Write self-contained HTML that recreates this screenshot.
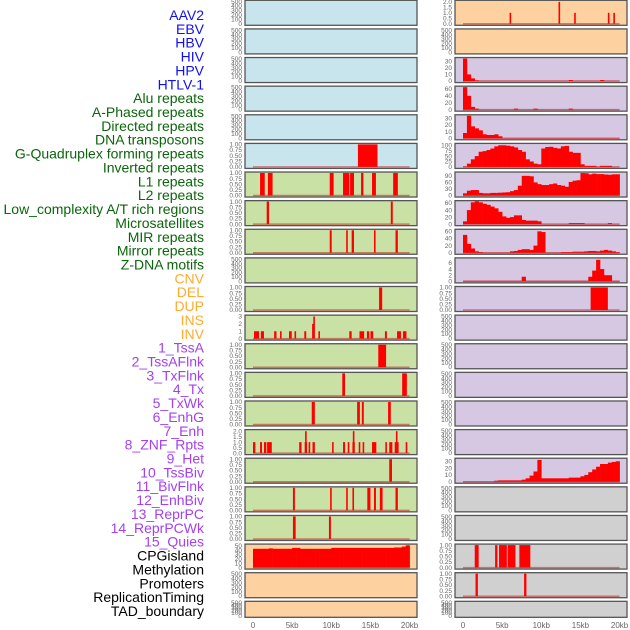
<!DOCTYPE html>
<html><head><meta charset="utf-8"><style>
html,body{margin:0;padding:0;background:#fff;}
svg{display:block;font-family:"Liberation Sans",sans-serif;}
</style></head><body>
<svg id="chart" width="630" height="630" viewBox="0 0 630 630" xmlns="http://www.w3.org/2000/svg">
<g id="labels"></g>
<g id="panels"></g>
<g id="xaxis"></g>
</svg>
<script>
// ---------- labels ----------
const trackNames = ["AAV2","EBV","HBV","HIV","HPV","HTLV-1","Alu repeats","A-Phased repeats","Directed repeats","DNA transposons","G-Quadruplex forming repeats","Inverted repeats","L1 repeats","L2 repeats","Low_complexity A/T rich regions","Microsatellites","MIR repeats","Mirror repeats","Z-DNA motifs","CNV","DEL","DUP","INS","INV","1_TssA","2_TssAFlnk","3_TxFlnk","4_Tx","5_TxWk","6_EnhG","7_Enh","8_ZNF_Rpts","9_Het","10_TssBiv","11_BivFlnk","12_EnhBiv","13_ReprPC","14_ReprPCWk","15_Quies","CPGisland","Methylation","Promoters","ReplicationTiming","TAD_boundary"];
const trackGroups = ["v","v","v","v","v","v","r","r","r","r","r","r","r","r","r","r","r","r","r","s","s","s","s","s","c","c","c","c","c","c","c","c","c","c","c","c","c","c","c","o","o","o","o","o"];

// ---------- x axis ----------
const xTicks = [0,5,10,15,20];
const xTickLabels = ["0","5kb","10kb","15kb","20kb"];

// ---------- data (kb positions / values) ----------
const rightRow0Spikes = [[5.95,6.15,1],[12.2,12.4,2],[14.2,14.4,1],[18.5,18.7,1],[19.2,19.4,1]];
const rightRow2Bins = [34,10,4,1,0.3,0.3,0.3,0.3,0.3,0.3,0.3,0.3,0.3,0.3,0.3,0.3,0.3,0.3,0.3,0.3,0.3,0.3,0.3,0.3,0.3,0.3,0.3,1.5,0.3,0.3,0.3,0.3,0.3,0.3,0.3,1.5,0.3,0.3,0.3,0.3];
const rightRow3Bins = [65,40,8,3,0.3,0.3,0.3,0.3,0.3,0.3,0.3,0.3,0.3,3,0.3,0.3,0.3,0.3,3,0.3,0.3,0.3,0.3,0.3,0.3,0.3,0.3,3,0.3,0.3,0.3,0.3,0.3,0.3,0.3,0.3,0.3,0.3,0.3,0.3];
const rightRow4Bins = [8,34,18,15,12,6,5,5,6,3,0.3,0.3,0.3,0.3,0.3,0.3,0.3,0.3,0.3,0.3,0.3,0.3,0.3,0.3,0.3,0.3,0.3,0.3,0.3,0.3,0.3,0.3,0.3,0.3,0.3,0.3,0.3,0.3,0.3,0.3];
const rightRow5Bins = [2,15,35,50,70,73,78,85,95,100,100,98,95,90,78,70,35,25,15,12,85,92,93,88,85,95,97,70,65,65,12,5,5,5,1,5,5,5,0.3,0.3];
const rightRow6Bins = [10,22,25,25,12,10,10,12,12,13,14,15,20,25,45,90,90,88,60,52,48,48,52,55,48,45,40,62,68,70,103,102,97,100,98,98,96,95,97,97];
const rightRow7Bins = [8,40,62,65,62,58,55,50,45,35,22,18,20,25,25,12,10,10,10,8,0.5,0.5,0.5,0.5,0.5,0.5,0.5,3,3,3,3,0.5,0.5,0.5,0.5,0.5,0.5,3,0.5,0.5];
const rightRow8Bins = [50,25,12,4,2,0.5,0.5,0.5,0.5,0.5,0.5,0.5,4,5,8,10,10,8,20,60,58,0.5,0.5,0.5,0.5,2,2,2,3,3,3,4,5,5,4,6,8,6,4,2];
const rightRow9Bins = [0.2,0.2,0.2,0.2,0.2,0.2,0.2,0.2,0.2,0.2,0.2,0.2,0.2,0.2,0.2,1.5,0.2,0.2,0.2,0.2,0.2,0.2,0.2,0.2,0.2,0.2,0.2,0.2,0.2,0.2,0.2,0.2,1.5,3.5,7,4,2,2,0.2,0.2];
const rightRow10Segs = [[16.3,18.5,1]];
const rightRow16Bins = [0.3,0.3,0.3,0.3,0.3,0.3,0.3,0.3,1.5,2,2,2,2,2,2,3,5,9,15,32,5,5,5,5,5,5,5,6,6,6,8,10,14,18,22,26,26,28,29,30];
const rightRow19Segs = [[1.5,2.0,1],[4.1,4.4,1],[4.6,5.6,1],[5.7,6.7,1],[7.2,8.6,1]];
const rightRow20Segs = [[1.6,1.9,1],[7.8,8.1,1]];

const leftRow5Segs = [[13.4,15.9,1]];
const leftRow6Segs = [[0.9,1.5,1],[1.9,2.5,1],[9.8,10.3,1],[11.5,12.3,1],[12.4,12.9,1],[13.8,14.1,1],[15.2,15.7,1],[17.9,18.5,1]];
const leftRow7Segs = [[1.75,2.05,1],[17.6,17.85,1]];
const leftRow8Segs = [[9.8,10.05,1],[11.9,12.1,1],[12.6,12.9,1],[15.45,15.65,1],[18.2,18.5,1]];
const leftRow10Segs = [[16.1,16.5,1]];
const leftRow11Segs = [[0.13,0.77,1],[1.0,1.4,1],[2.7,3.0,1],[3.45,3.65,1],[4.6,4.95,1],[5.3,5.5,1],[6.55,6.8,1],[7.55,7.7,2],[7.7,7.9,3],[8.35,8.55,1],[12.3,12.6,1],[13.6,14.2,1],[14.55,14.85,1],[15.0,15.35,1],[16.85,17.1,1],[18.4,18.9,1],[19.15,19.6,1]];
const leftRow12Segs = [[16.0,17.0,1]];
const leftRow13Segs = [[11.4,11.75,1],[19.05,19.65,1]];
const leftRow14Segs = [[7.5,7.9,1],[13.3,13.65,1],[13.9,14.15,1],[17.25,17.6,1]];
const leftRow15Segs = [[0.0,0.3,1],[0.9,1.15,1],[1.4,1.7,1],[1.8,2.4,1],[5.9,6.2,1],[6.6,6.9,1],[6.65,6.8,2],[7.1,7.3,1],[7.6,7.9,1],[10.1,10.3,1],[11.5,11.75,1],[12.1,12.25,1],[12.7,13.0,1],[12.75,12.9,2],[13.5,13.7,1],[14.0,14.2,1],[15.2,15.75,1],[16.9,17.1,1],[17.4,17.8,1],[18.1,18.6,1],[18.25,18.45,2],[19.5,19.7,1]];
const leftRow16Segs = [[17.4,17.75,1]];
const leftRow17Segs = [[5.1,5.35,1],[9.85,10.0,1],[11.9,12.1,1],[12.7,12.9,1],[14.6,15.0,1],[15.45,15.7,1],[16.2,16.55,1],[18.2,18.5,1]];
const leftRow18Segs = [[5.1,5.45,1],[9.7,9.95,1]];
const leftRow19Bins = [43,43,43,43,44,43,43,43,43,43,45,45,43,43,43,43,43,43,43,43,45,45,45,45,45,45,45,45,45,45,45,45,45,45,45,45,46,46,48,51];

const ticks01 = [0,0.25,0.5,0.75,1];
const ticks02 = [0,0.5,1,1.5,2];
const ticks500 = [0,100,200,300,400,500];

// ---------- layout ----------
const NS = "http://www.w3.org/2000/svg";
const BG = {b:"#c8e4ec", g:"#c9e1a5", o:"#fdd1a0", p:"#d6c7e3", k:"#d0d0d0"};
const COL = {v:"#1010f0", r:"#0b650b", s:"#ffab2e", c:"#a341ee", o:"#000000"};
const ROW_PITCH = 28.62;
const LEFT = {x:245, w:172, x0:253}, RIGHT = {x:455, w:172, x0:463};
const PX_PER_KB = 7.83;

function E(){return {t:"e"};}
const rows = [
 [{bg:"b",...E()}, {bg:"o",segs:rightRow0Spikes,yMax:2.05,ticks:ticks02,dec:1}],
 [{bg:"b",...E()}, {bg:"o",...E()}],
 [{bg:"b",...E()}, {bg:"p",bins:rightRow2Bins,yMax:34,ticks:[0,10,20,30],dec:0}],
 [{bg:"b",...E()}, {bg:"p",bins:rightRow3Bins,yMax:65,ticks:[0,20,40,60],dec:0}],
 [{bg:"b",...E()}, {bg:"p",bins:rightRow4Bins,yMax:34,ticks:[0,10,20,30],dec:0}],
 [{bg:"b",segs:leftRow5Segs,yMax:1,ticks:ticks01,dec:2}, {bg:"p",bins:rightRow5Bins,yMax:104,ticks:[0,25,50,75,100],dec:0}],
 [{bg:"g",segs:leftRow6Segs,yMax:1,ticks:ticks01,dec:2}, {bg:"p",bins:rightRow6Bins,yMax:103,ticks:[0,30,60,90],dec:0}],
 [{bg:"g",segs:leftRow7Segs,yMax:1,ticks:ticks01,dec:2}, {bg:"p",bins:rightRow7Bins,yMax:64,ticks:[0,20,40,60],dec:0}],
 [{bg:"g",segs:leftRow8Segs,yMax:1,ticks:ticks01,dec:2}, {bg:"p",bins:rightRow8Bins,yMax:63,ticks:[0,20,40,60],dec:0}],
 [{bg:"g",...E()}, {bg:"p",bins:rightRow9Bins,yMax:7.3,ticks:[0,2,4,6],dec:0}],
 [{bg:"g",segs:leftRow10Segs,yMax:1,ticks:ticks01,dec:2}, {bg:"p",segs:rightRow10Segs,yMax:1,ticks:ticks01,dec:2}],
 [{bg:"g",segs:leftRow11Segs,yMax:3.05,ticks:[0,1,2,3],dec:0}, {bg:"p",...E()}],
 [{bg:"g",segs:leftRow12Segs,yMax:1,ticks:ticks01,dec:2}, {bg:"p",...E()}],
 [{bg:"g",segs:leftRow13Segs,yMax:1,ticks:ticks01,dec:2}, {bg:"p",...E()}],
 [{bg:"g",segs:leftRow14Segs,yMax:1,ticks:ticks01,dec:2}, {bg:"p",...E()}],
 [{bg:"g",segs:leftRow15Segs,yMax:2.05,ticks:ticks02,dec:1}, {bg:"p",...E()}],
 [{bg:"g",segs:leftRow16Segs,yMax:1,ticks:ticks01,dec:2}, {bg:"p",bins:rightRow16Bins,yMax:33,ticks:[0,10,20,30],dec:0}],
 [{bg:"g",segs:leftRow17Segs,yMax:1,ticks:ticks01,dec:2}, {bg:"k",...E()}],
 [{bg:"g",segs:leftRow18Segs,yMax:1,ticks:ticks01,dec:2}, {bg:"k",...E()}],
 [{bg:"o",bins:leftRow19Bins,yMax:51.5,ticks:[0,10,20,30,40,50],dec:0}, {bg:"k",segs:rightRow19Segs,yMax:1,ticks:ticks01,dec:2}],
 [{bg:"o",...E()}, {bg:"k",segs:rightRow20Segs,yMax:1,ticks:ticks01,dec:2}],
 [{bg:"o",...E()}, {bg:"k",...E()}]
];

function mk(tag, attrs, parent){
  const el = document.createElementNS(NS, tag);
  for (const k in attrs) el.setAttribute(k, attrs[k]);
  parent.appendChild(el);
  return el;
}

const labelG = document.getElementById("labels");
trackNames.forEach((name, i) => {
  const t = mk("text", {x:204, y:15 + i*13.86 + 5, "text-anchor":"end", "font-size":"14", fill:COL[trackGroups[i]]}, labelG);
  
  
  t.textContent = name;
});

const panelG = document.getElementById("panels");
function drawPanel(cfg, geo, r, side){
  const top = r*ROW_PITCH + 0.3;
  const H = (r === rows.length - 1) ? 16 : 25;
  const g = mk("g", {}, panelG);
  
  
  const bg = mk("rect", {x:geo.x, y:top, width:geo.w, height:H, fill:BG[cfg.bg]}, g);
  
  
  const xs = kb => geo.x0 + kb*PX_PER_KB;
  const zeroY = top + H - 1.5;
  const span = H - 2.5;
  const tickX = geo.x - 3;
  if (cfg.t === "e") {
    ticks500.forEach(v => {
      const tl = mk("text", {x:tickX, y:zeroY - v/500*(span-0.5) + 2, "text-anchor":"end", "font-size":"6.5", fill:"#666"}, g);
      
      
      tl.textContent = String(v);
    });
  } else {
    const ys = v => zeroY - v/cfg.yMax*span;
    cfg.ticks.forEach(v => {
      const tl = mk("text", {x:tickX, y:ys(v) + 2.2, "text-anchor":"end", "font-size":"6.5", fill:"#666"}, g);
      
      
      tl.textContent = v.toFixed(cfg.dec);
    });
    const base = mk("line", {x1:xs(0), x2:xs(20), y1:zeroY, y2:zeroY, stroke:"rgba(190,0,0,0.45)", "stroke-width":1.5}, g);
    
    
    if (cfg.bins) {
      cfg.bins.forEach((v, i) => {
        const y = ys(v);
        const b = mk("rect", {x:xs(i*0.5), y:y, width:0.5*PX_PER_KB + 0.3, height:Math.max(0, zeroY - y), fill:"#ff0000"}, g);
        
        
      });
    }
    if (cfg.segs) {
      cfg.segs.forEach(s => {
        const y = ys(s[2]);
        const x1 = xs(s[0]), x2 = xs(s[1]);
        const b = mk("rect", {x:x1, y:y, width:Math.max(1.6, x2 - x1), height:zeroY - y, fill:"#ff0000"}, g);
        
        
      });
    }
  }
  const fr = mk("rect", {x:geo.x, y:top, width:geo.w, height:H, fill:"none", stroke:"#555", "stroke-width":1.3}, g);
  
  
}
rows.forEach((row, r) => {
  drawPanel(row[0], LEFT, r, "left");
  drawPanel(row[1], RIGHT, r, "right");
});

const xg = document.getElementById("xaxis");
[LEFT, RIGHT].forEach(geo => {
  xTicks.forEach((kb, i) => {
    const t = mk("text", {x:geo.x0 + kb*PX_PER_KB, y:628, "text-anchor":"middle", "font-size":"8", fill:"#666"}, xg);
    
    
    t.textContent = xTickLabels[i];
  });
});
</script>
</body></html>
